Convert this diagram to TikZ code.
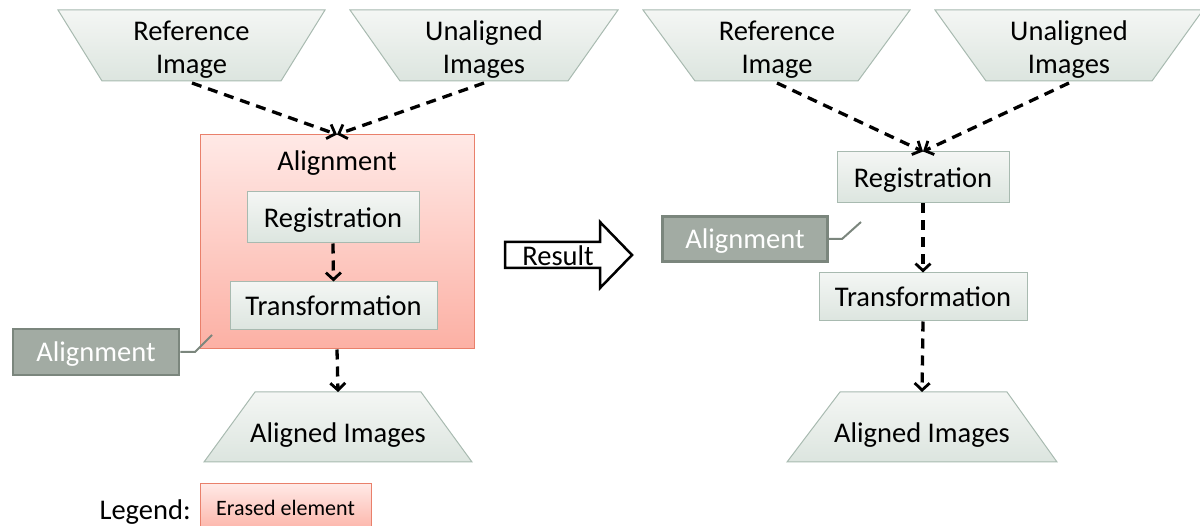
\documentclass[tikz,border=0pt]{standalone}
\usepackage{fontspec}
\setmainfont{Carlito}
\usetikzlibrary{arrows.meta,shapes.geometric}
\definecolor{boxtop}{HTML}{F4F6F4}
\definecolor{boxbot}{HTML}{DCE5DF}
\definecolor{boxedge}{HTML}{A8BAB0}
\definecolor{redtop}{HTML}{FFE9E6}
\definecolor{redbot}{HTML}{FCB0A4}
\definecolor{rededge}{HTML}{E9806B}
\definecolor{lblfill}{HTML}{A2ABA3}
\definecolor{lbledge}{HTML}{7B867D}
\tikzset{
  maintext/.style={font=\fontsize{28.5}{33}\selectfont, text=black},
  shifted/.style={text height=24pt, text depth=4pt},
  greenbox/.style={draw=boxedge, line width=1pt, top color=boxtop, bottom color=boxbot, maintext, shifted, inner sep=0pt},
  erasedbox/.style={draw=rededge, line width=1pt, top color=redtop, bottom color=redbot, inner sep=0pt},
  greylabel/.style={draw=lbledge, line width=2.5pt, fill=lblfill, text=white, font=\fontsize{28.5}{33}\selectfont, shifted, inner sep=0pt},
  greyline/.style={draw=lbledge, line width=2pt},
  flow/.style={draw=black, line width=3.3pt, dash pattern=on 10pt off 7pt, -{Straight Barb[length=7pt,width=15pt,line width=2.8pt]}},
  trapfill/.style={draw=boxedge, line width=1pt, top color=boxtop, bottom color=boxbot},
}
\begin{document}
\begin{tikzpicture}[x=1pt,y=-1pt]
\useasboundingbox (0,0) rectangle (1200,526);

% ---------- left side ----------
\path[trapfill] (58,10) -- (325,10) -- (281,81) -- (102,81) -- cycle;
\node[maintext, align=center] (refL) at (191.5,50) {Reference\\Image};
\coordinate (refLb) at (192,83);
\path[trapfill] (350,10) -- (618,10) -- (568,81) -- (400,81) -- cycle;
\node[maintext, align=center] (unL) at (484,50) {Unaligned\\Images};
\coordinate (unLb) at (484,83);

\node[erasedbox, minimum width=274pt, minimum height=214pt] (erase) at (337,242) {};
\node[maintext, shifted] (alTitle) at (337,161) {Alignment};
\node[greenbox, minimum width=172pt, minimum height=51pt] (regL) at (333,217.5) {Registration};
\node[greenbox, minimum width=207pt, minimum height=48pt] (trL) at (333.5,306) {Transformation};

\draw[flow] (refLb) -- (erase.north);
\draw[flow] (unLb) -- (erase.north);
\draw[flow] (regL.south) -- (trL.north);

\path[trapfill] (255,392) -- (421,392) -- (472,462) -- (204,462) -- cycle;
\node[maintext, shifted] (alImgL) at (338,433) {Aligned Images};
\coordinate (alImgLt) at (338,392);
\draw[flow] (erase.south) -- (alImgLt);

\node[greylabel, minimum width=166pt, minimum height=46pt] (lblL) at (96,352) {Alignment};
\coordinate (kL) at (195,352);
\coordinate (tL) at (212,335);
\draw[greyline] (lblL.east) -- (kL) -- (tL);

% ---------- result arrow ----------
\draw[line width=2.5pt, line join=miter] (505,242) -- (600,242) -- (600,222) -- (632,255) -- (600,288) -- (600,268) -- (505,268) -- cycle;
\node[maintext, shifted] (res) at (558,256) {Result};

% ---------- right side ----------
\path[trapfill] (643,10) -- (910,10) -- (858,81) -- (695,81) -- cycle;
\node[maintext, align=center] (refR) at (777,50) {Reference\\Image};
\coordinate (refRb) at (777,83);
\path[trapfill] (935,10) -- (1203,10) -- (1152,81) -- (986,81) -- cycle;
\node[maintext, align=center] (unR) at (1069,50) {Unaligned\\Images};
\coordinate (unRb) at (1069,83);

\node[greenbox, minimum width=172pt, minimum height=51pt] (regR) at (923,177.5) {Registration};
\node[greenbox, minimum width=208pt, minimum height=48pt] (trR) at (923,297) {Transformation};
\draw[flow] (refRb) -- (regR.north);
\draw[flow] (unRb) -- (regR.north);
\draw[flow] (regR.south) -- (trR.north);

\path[trapfill] (840,392) -- (1007,392) -- (1057,462) -- (787,462) -- cycle;
\node[maintext, shifted] (alImgR) at (922,433) {Aligned Images};
\coordinate (alImgRt) at (922,392);
\draw[flow] (trR.south) -- (alImgRt);

\node[greylabel, minimum width=165pt, minimum height=45pt] (lblR) at (745,239) {Alignment};
\coordinate (kR) at (842,239);
\coordinate (tR) at (861,222);
\draw[greyline] (lblR.east) -- (kR) -- (tR);

% ---------- legend ----------
\node[maintext, shifted, anchor=west] (leg) at (96,509) {Legend:};
\node[erasedbox, minimum width=171pt, minimum height=50pt] (legbox) at (285.5,509) {};
\node[font=\fontsize{22}{26}\selectfont, text=black, text height=18pt, text depth=3pt] (legtext) at (285.5,508) {Erased element};
\end{tikzpicture}
\end{document}
